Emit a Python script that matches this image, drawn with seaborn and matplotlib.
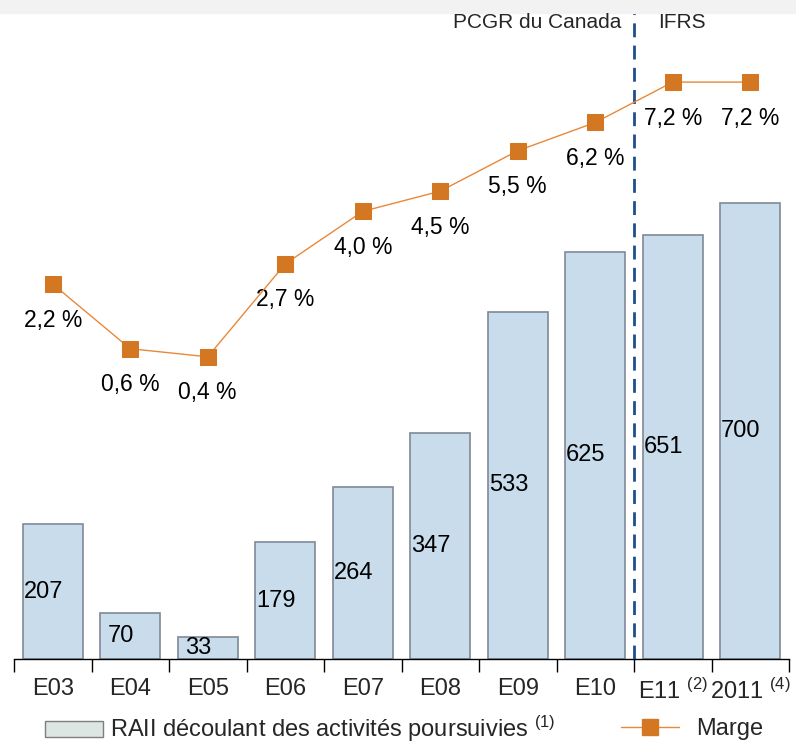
import numpy as np
import pandas as pd
import matplotlib.pyplot as plt
from matplotlib.patches import Rectangle, Patch
from matplotlib.lines import Line2D
import seaborn as sns

sns.set_style("white")
plt.rcParams['font.family'] = ['Liberation Sans', 'DejaVu Sans']
plt.rcParams['mathtext.fontset'] = 'custom'
plt.rcParams['mathtext.rm'] = 'Liberation Sans'
plt.rcParams['mathtext.it'] = 'Liberation Sans'

# data
periods = ["E03", "E04", "E05", "E06", "E07", "E08", "E09", "E10", "E11", "2011"]
tick_labels = ["E03", "E04", "E05", "E06", "E07", "E08", "E09", "E10",
               "E11 $^{(2)}$", "2011 $^{(4)}$"]
raii = [207, 70, 33, 179, 264, 347, 533, 625, 651, 700]
marge = [2.2, 0.6, 0.4, 2.7, 4.0, 4.5, 5.5, 6.2, 7.2, 7.2]
marge_labels = ["2,2 %", "0,6 %", "0,4 %", "2,7 %", "4,0 %", "4,5 %",
                "5,5 %", "6,2 %", "7,2 %", "7,2 %"]

df = pd.DataFrame({"period": periods, "raii": raii, "marge": marge})

W, H = 796, 744
fig = plt.figure(figsize=(W / 100, H / 100), dpi=100)
ax = fig.add_axes([14 / W, (H - 659) / H, (789 - 14) / W, (659 - 13) / H])

# grey band at top
fig.patches.append(Rectangle((0, (H - 13) / H), 1, 13 / H, transform=fig.transFigure,
                             color="#f2f2f2", zorder=0))

sns.barplot(data=df, x="period", y="raii", ax=ax, color="#c9dcec",
            edgecolor="#7f8a96", linewidth=1.2, width=0.77, saturation=1)
ax.set_xlim(-0.5, 9.5)
ax.set_ylim(0, 991)
ax.set_xlabel("")
ax.set_ylabel("")
ax.set_yticks([])
ax.set_xticks(np.arange(len(periods)))
ax.set_xticklabels(tick_labels, fontsize=17)
ax.set_xticks(np.arange(-0.5, len(periods)), minor=True)
ax.tick_params(axis="x", which="major", bottom=False, length=0, pad=14)
ax.tick_params(axis="x", which="minor", bottom=True, length=9, width=1,
               color="black", direction="out")
for s in ["top", "right", "left"]:
    ax.spines[s].set_visible(False)
ax.spines["bottom"].set_color("black")
ax.spines["bottom"].set_linewidth(1)

for i, v in enumerate(raii):
    ax.text(i - 0.12, v / 2, str(v), ha="center", va="center", fontsize=17, color="black")

# margin line on twin axis
ax2 = ax.twinx()
sns.lineplot(x=np.arange(len(marge)), y=marge, ax=ax2, color="#e8883a", linewidth=1,
             marker="s", markersize=12, markerfacecolor="#d47722",
             markeredgecolor="#d47722", zorder=5)
ax2.set_ylim(-7.08, 8.91)
ax2.set_yticks([])
for s in ["top", "right", "left", "bottom"]:
    ax2.spines[s].set_visible(False)
for i, (v, lab) in enumerate(zip(marge, marge_labels)):
    ax2.annotate(lab, (i, v), xytext=(0, -26), textcoords="offset points",
                 ha="center", va="center", fontsize=16.5, color="black")

# separation line between standards
ax2.axvline(7.5, color="#1f4e8c", linestyle=(0, (5, 3)), linewidth=2, zorder=1)
fig.text(537 / W, (H - 23) / H, "PCGR du Canada", ha="center", va="center", fontsize=15)
fig.text(682 / W, (H - 23) / H, "IFRS", ha="center", va="center", fontsize=15)

# legend, two separate entries
bar_handle = Patch(facecolor="#dce6e3", edgecolor="#7f7f7f", linewidth=1)
line_handle = Line2D([0], [0], color="#e8883a", linewidth=1, marker="s", markersize=12,
                     markerfacecolor="#d47722", markeredgecolor="#d47722")
fig.legend([bar_handle], ["RAII découlant des activités poursuivies $^{(1)}$"],
           loc="center left", bbox_to_anchor=(45 / W, (H - 729) / H),
           frameon=False, fontsize=17, handlelength=2.45, handleheight=0.65,
           handletextpad=0.3, borderpad=0, borderaxespad=0)
fig.legend([line_handle], ["Marge"],
           loc="center left", bbox_to_anchor=(621 / W, (H - 729) / H),
           frameon=False, fontsize=17, handlelength=2.45, handletextpad=0.75,
           borderpad=0, borderaxespad=0)

fig.savefig("out.png", dpi=100)
